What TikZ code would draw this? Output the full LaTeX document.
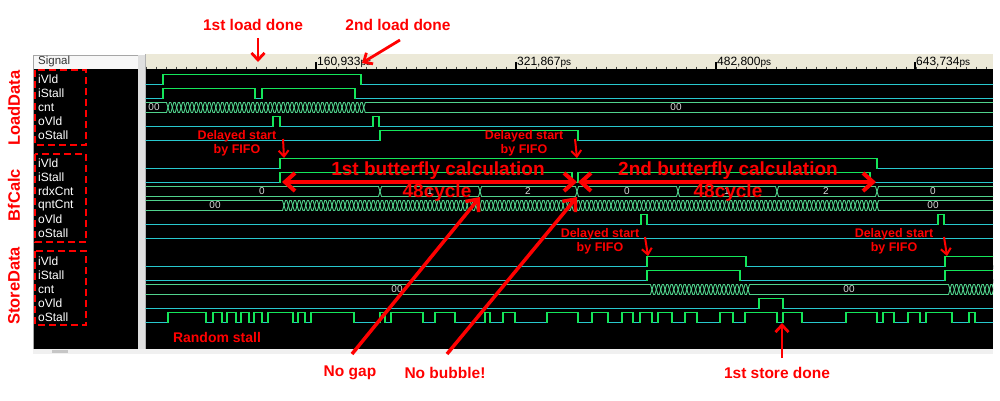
\documentclass[tikz,border=0pt]{standalone}
\usepackage{fontspec}
\setmainfont{Liberation Sans}
\usetikzlibrary{arrows.meta}
\definecolor{lo}{RGB}{40,200,205}
\definecolor{hi}{RGB}{20,230,90}
\definecolor{busc}{RGB}{80,210,140}
\definecolor{rulerbg}{RGB}{236,233,216}
\newcommand\lowseg[3]{\draw[loline] ({#1},{#3+5}) -- ({#2},{#3+5});}
\newcommand\hiseg[3]{\fill[black] ({#1+0.6},{#3+3}) rectangle ({#2-0.6},{#3+7});
  \draw[hiline] ({#1},{#3+5}) -- ({#1},{#3-5}) -- ({#2},{#3-5}) -- ({#2},{#3+5});}
\newcommand\busseg[3]{\draw[busline] ({#1},{#3}) -- ({#1+1.5},{#3-5}) -- ({#2-1.5},{#3-5}) -- ({#2},{#3}) -- ({#2-1.5},{#3+5}) -- ({#1+1.5},{#3+5}) -- cycle;}
\newcommand\toggles[4]{\foreach \k in {1,...,#2}{\pgfmathsetmacro\xa{#1+(\k-1)*#3}\pgfmathsetmacro\xb{#1+\k*#3}\busseg{\xa}{\xb}{#4}}}
\tikzset{
 loline/.style={draw=lo, line width=1pt},
 hiline/.style={draw=hi, line width=1.6pt},
 busline/.style={draw=busc, line width=0.9pt},
 buslbl/.style={text=white!85!black, font=\fontsize{10}{10}\selectfont, inner sep=0pt},
 sname/.style={anchor=west, text=white, font=\fontsize{12}{12}\selectfont, inner sep=0pt},
 ann/.style={text=red, font=\bfseries\fontsize{15.5}{16}\selectfont, inner sep=0pt},
 dsl/.style={text=red, font=\bfseries\fontsize{12.5}{14}\selectfont, align=center, inner sep=0pt},
 big/.style={text=red, font=\bfseries\fontsize{19}{19}\selectfont, inner sep=0pt, anchor=base},
 grp/.style={text=red, font=\bfseries\fontsize{16.5}{17}\selectfont, rotate=90, inner sep=0pt},
 grpbox/.style={draw=red, line width=2.6pt, dash pattern=on 7pt off 4pt},
 arrA/.style={draw=red, line width=2.8pt, -{Straight Barb[length=7pt,width=13pt]}},
 arrS/.style={draw=red, line width=2pt, -{Straight Barb[length=6pt,width=10pt]}},
 arrD/.style={draw=red, line width=4pt, {Straight Barb[length=10pt,width=18pt]}-{Straight Barb[length=10pt,width=18pt]}},
 arrL/.style={draw=red, line width=3.5pt, -{Straight Barb[length=10pt,width=17pt]}},
 rlbl/.style={anchor=base west, inner sep=0pt, text=black, font=\fontsize{12}{12}\selectfont},
}
\begin{document}
\begin{tikzpicture}[x=1pt,y=-1pt]
\useasboundingbox (0,0) rectangle (1000,400);
\fill[white] (0,0) rectangle (1000,400);
% ---------- panels
\fill[gray!6] (33,55) rectangle (139,69);
\draw[gray!70, line width=0.6pt] (33,55) rectangle (139,69);
\fill[black] (33,69) rectangle (138,349);
\fill[gray!25] (138,55) rectangle (145,352);
\draw[gray!70, line width=0.6pt] (33,55) -- (33,353);
\fill[rulerbg] (145,54) rectangle (993,69);
\fill[black] (145,69) rectangle (993,349);
\draw[gray!60, line width=0.8pt] (145,54) -- (145,350);
\fill[gray!12] (33,349) rectangle (993,354);
\fill[gray!45] (52,349.5) rectangle (68,352.5);
\node[anchor=west, inner sep=0pt, text=black!80, font=\fontsize{11.5}{12}\selectfont] (hdr) at (38,62) {Signal};
% ruler ticks
\foreach \x in {146,156,...,992} \draw[black!75, line width=0.6pt] (\x,66.5) -- (\x,69);
\foreach \x in {316,516,716,915} \draw[black, line width=1.6pt] (\x,62) -- (\x,69);
\node[rlbl] (t1) at (317,65) {160,933{\fontsize{10}{10}\selectfont ps}};
\node[rlbl] (t2) at (517,65) {321,867{\fontsize{10}{10}\selectfont ps}};
\node[rlbl] (t3) at (717,65) {482,800{\fontsize{10}{10}\selectfont ps}};
\node[rlbl] (t4) at (916,65) {643,734{\fontsize{10}{10}\selectfont ps}};
% ---------- signal names
\node[sname] (s0) at (38,79.5) {iVld};
\node[sname] (s1) at (38,93.5) {iStall};
\node[sname] (s2) at (38,107.5) {cnt};
\node[sname] (s3) at (38,121.5) {oVld};
\node[sname] (s4) at (38,135.5) {oStall};
\node[sname] (s6) at (38,163.5) {iVld};
\node[sname] (s7) at (38,177.5) {iStall};
\node[sname] (s8) at (38,191.5) {rdxCnt};
\node[sname] (s9) at (38,205.5) {qntCnt};
\node[sname] (s10) at (38,219.5) {oVld};
\node[sname] (s11) at (38,233.5) {oStall};
\node[sname] (s13) at (38,261.5) {iVld};
\node[sname] (s14) at (38,275.5) {iStall};
\node[sname] (s15) at (38,289.5) {cnt};
\node[sname] (s16) at (38,303.5) {oVld};
\node[sname] (s17) at (38,317.5) {oStall};
\draw[grpbox] (35,70) rectangle (86,145);
\draw[grpbox] (35,154) rectangle (86,242);
\draw[grpbox] (35,251) rectangle (86,325);
\node[grp] (gL) at (14,108) {LoadData};
\node[grp] (gB) at (14,195) {BfCalc};
\node[grp] (gS) at (14,286) {StoreData};
% ---------- waveforms
\begin{scope}
\clip (145.5,69) rectangle (993,349);
% LoadData
\lowseg{140}{1000}{79.5} \hiseg{163}{361}{79.5}
\lowseg{140}{1000}{93.5} \hiseg{163}{255}{93.5} \hiseg{262}{355}{93.5}
\busseg{140}{168}{107.5} \toggles{168}{45}{4.35}{107.5} \busseg{363.75}{1000}{107.5}
\node[buslbl] (v1) at (154,107.5) {00};
\node[buslbl] (v2) at (676,107.5) {00};
\lowseg{140}{1000}{121.5} \hiseg{273}{280}{121.5} \hiseg{373}{379}{121.5}
\lowseg{140}{1000}{135.5} \hiseg{380}{578}{135.5}
% BfCalc
\lowseg{140}{1000}{163.5} \hiseg{280}{877}{163.5}
\lowseg{140}{1000}{177.5} \hiseg{280}{572}{177.5} \hiseg{578}{870}{177.5}
\busseg{140}{380}{191.5} \busseg{380}{480}{191.5} \busseg{480}{577}{191.5}
\busseg{577}{678}{191.5} \busseg{678}{777}{191.5} \busseg{777}{877}{191.5} \busseg{877}{1000}{191.5}
\node[buslbl] (r0) at (262,191.5) {0};
\node[buslbl] (r1) at (430,191.5) {1};
\node[buslbl] (r2) at (528,191.5) {2};
\node[buslbl] (r3) at (627,191.5) {0};
\node[buslbl] (r4) at (727,191.5) {1};
\node[buslbl] (r5) at (826,191.5) {2};
\node[buslbl] (r6) at (933,191.5) {0};
\busseg{140}{284}{205.5} \toggles{284}{136}{4.36}{205.5} \busseg{877}{1000}{205.5}
\node[buslbl] (q0) at (215,205.5) {00};
\node[buslbl] (q1) at (933,205.5) {00};
\lowseg{140}{1000}{219.5} \hiseg{641}{647}{219.5} \hiseg{938}{944}{219.5}
\lowseg{140}{1000}{233.5}
% StoreData
\lowseg{140}{1000}{261.5} \hiseg{647}{746}{261.5} \hiseg{945}{1010}{261.5}
\lowseg{140}{1000}{275.5} \hiseg{647}{740}{275.5} \hiseg{945}{1010}{275.5}
\busseg{140}{652}{289.5} \toggles{652}{22}{4.36}{289.5} \busseg{748}{950}{289.5} \toggles{950}{12}{4.36}{289.5}
\node[buslbl] (c0) at (397,289.5) {00};
\node[buslbl] (c1) at (849,289.5) {00};
\lowseg{140}{1000}{303.5} \hiseg{759}{783}{303.5}
\lowseg{140}{1000}{317.5}
\foreach \a/\b in {168/206,213/222,227/236,241/249,254/262,268/293,298/305,311/354,380/385,391/423,435/455,485/490,503/515,547/578,592/608,622/633,640/652,658/672,685/697,720/733,745/777,783/802,846/877,883/894,908/920,926/952,969/975}
  {\hiseg{\a}{\b}{317.5}}
\end{scope}
% ---------- annotations
\node[ann] (a1) at (253,25) {1st load done};
\coordinate (a1s) at (258,38); \coordinate (a1t) at (258,62);
\draw[arrA] (a1s) -- (a1t);
\node[ann] (a2) at (398,25) {2nd load done};
\coordinate (a2s) at (400,40); \coordinate (a2t) at (362,63);
\draw[arrA] (a2s) -- (a2t);
\node[dsl] (d1) at (237,143) {Delayed start\\by FIFO};
\node[dsl] (d2) at (524,143) {Delayed start\\by FIFO};
\node[dsl] (d3) at (600,241) {Delayed start\\by FIFO};
\node[dsl] (d4) at (894,241) {Delayed start\\by FIFO};
\coordinate (d1s) at (283,139); \coordinate (d1t) at (284,158);
\coordinate (d2s) at (575,139); \coordinate (d2t) at (577,158);
\coordinate (d3s) at (645,237); \coordinate (d3t) at (648,256);
\coordinate (d4s) at (944,237); \coordinate (d4t) at (947,256);
\draw[arrS] (d1s) -- (d1t);
\draw[arrS] (d2s) -- (d2t);
\draw[arrS] (d3s) -- (d3t);
\draw[arrS] (d4s) -- (d4t);
\node[big] (b1) at (438,175) {1st butterfly calculation};
\node[big] (b2) at (728,175) {2nd butterfly calculation};
\coordinate (h1) at (282,182); \coordinate (h2) at (577,182);
\coordinate (h3) at (578,182); \coordinate (h4) at (876,182);
\draw[arrD] (h1) -- (h2);
\draw[arrD] (h3) -- (h4);
\node[big] (k1) at (437,197) {48cycle};
\node[big] (k2) at (728,197) {48cycle};
\node[ann] (ng) at (350,373) {No gap};
\node[ann] (nb) at (445,373) {No bubble!};
\node[ann] (sd) at (777,373) {1st store done};
\node[text=red, font=\bfseries\fontsize{14}{14}\selectfont, inner sep=0pt] (rs) at (217,337) {Random stall};
\coordinate (ngs) at (352,354); \coordinate (ngt) at (480,197);
\coordinate (nbs) at (447,354); \coordinate (nbt) at (577,197);
\coordinate (sds) at (782,358); \coordinate (sdt) at (782,323);
\draw[arrL] (ngs) -- (ngt);
\draw[arrL] (nbs) -- (nbt);
\draw[arrA] (sds) -- (sdt);
\end{tikzpicture}
\end{document}
